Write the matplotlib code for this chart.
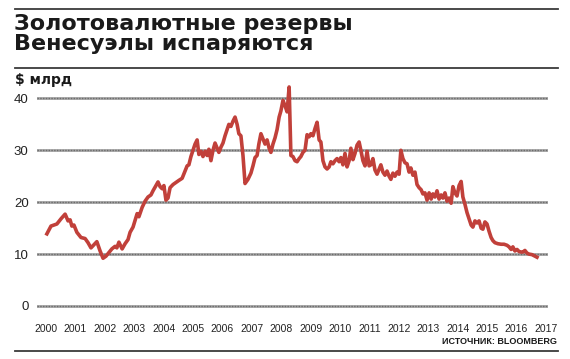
import matplotlib.pyplot as plt
from matplotlib.lines import Line2D

# данные: золотовалютные резервы Венесуэлы, $ млрд
years = [2000.03, 2000.17, 2000.27, 2000.37, 2000.51, 2000.65, 2000.75, 2000.82, 2000.88, 2000.95,
         2001.05, 2001.19, 2001.33, 2001.43, 2001.53, 2001.63, 2001.73, 2001.84, 2001.94, 2002.04,
         2002.14, 2002.24, 2002.35, 2002.41, 2002.48, 2002.59, 2002.69, 2002.79, 2002.86, 2002.96,
         2003.03, 2003.10, 2003.16, 2003.27, 2003.37, 2003.47, 2003.57, 2003.64, 2003.74, 2003.81,
         2003.88, 2003.95, 2004.01, 2004.08, 2004.15, 2004.22, 2004.32, 2004.42, 2004.52, 2004.63,
         2004.73, 2004.80, 2004.86, 2004.93, 2005.00, 2005.07, 2005.14, 2005.20, 2005.27, 2005.34,
         2005.41, 2005.48, 2005.54, 2005.61, 2005.68, 2005.75, 2005.82, 2005.88, 2005.95, 2006.02,
         2006.09, 2006.16, 2006.22, 2006.29, 2006.36, 2006.43, 2006.50, 2006.56, 2006.63, 2006.70,
         2006.77, 2006.87, 2006.97, 2007.04, 2007.11, 2007.18, 2007.24, 2007.31, 2007.38, 2007.45,
         2007.52, 2007.59, 2007.65, 2007.72, 2007.79, 2007.86, 2007.93, 2007.99, 2008.06, 2008.13,
         2008.20, 2008.27, 2008.33, 2008.40, 2008.47, 2008.54, 2008.61, 2008.67, 2008.74, 2008.81,
         2008.88, 2008.95, 2009.01, 2009.08, 2009.15, 2009.22, 2009.29, 2009.35, 2009.42, 2009.49,
         2009.56, 2009.63, 2009.69, 2009.76, 2009.83, 2009.90, 2009.97, 2010.03, 2010.10, 2010.17,
         2010.24, 2010.31, 2010.37, 2010.44, 2010.51, 2010.58, 2010.65, 2010.71, 2010.78, 2010.85,
         2010.92, 2010.99, 2011.05, 2011.12, 2011.19, 2011.26, 2011.33, 2011.39, 2011.46, 2011.53,
         2011.60, 2011.67, 2011.73, 2011.80, 2011.87, 2011.94, 2012.01, 2012.07, 2012.14, 2012.21,
         2012.28, 2012.35, 2012.41, 2012.48, 2012.55, 2012.62, 2012.69, 2012.76, 2012.82, 2012.89,
         2012.96, 2013.03, 2013.10, 2013.16, 2013.23, 2013.30, 2013.37, 2013.44, 2013.50, 2013.57,
         2013.64, 2013.71, 2013.78, 2013.84, 2013.91, 2013.98, 2014.05, 2014.12, 2014.18, 2014.25,
         2014.32, 2014.39, 2014.46, 2014.52, 2014.59, 2014.66, 2014.73, 2014.80, 2014.86, 2014.93,
         2015.00, 2015.07, 2015.14, 2015.20, 2015.27, 2015.37, 2015.48, 2015.58, 2015.68, 2015.75,
         2015.82, 2015.88, 2015.95, 2016.02, 2016.09, 2016.16, 2016.22, 2016.29, 2016.36, 2016.43,
         2016.53, 2016.63, 2016.70]
reserves = [13.9, 15.4, 15.6, 15.8, 16.8, 17.7, 16.4, 16.6, 15.4, 15.6,
            14.2, 13.2, 13.0, 12.2, 11.2, 11.8, 12.4, 10.6, 9.2, 9.6,
            10.3, 11.0, 11.5, 11.2, 12.3, 11.0, 12.0, 12.8, 14.2, 15.2,
            16.5, 17.8, 17.2, 19.0, 20.2, 21.0, 21.4, 22.2, 23.2, 23.9,
            23.0, 22.6, 23.2, 20.4, 20.8, 22.8, 23.4, 23.8, 24.2, 24.6,
            26.0, 27.0, 27.2, 28.8, 30.0, 31.2, 32.0, 29.2, 29.8, 28.8,
            29.8, 29.0, 30.2, 28.0, 30.0, 31.4, 30.4, 29.6, 30.6, 31.4,
            32.8, 34.0, 35.0, 34.6, 35.6, 36.4, 35.0, 33.2, 32.8, 29.0,
            23.6, 24.4, 25.6, 27.0, 28.6, 29.0, 31.2, 33.2, 32.2, 31.2,
            32.0, 30.4, 29.6, 31.2, 32.4, 34.0, 36.4, 37.6, 39.6, 38.6,
            37.4, 42.2, 29.0, 28.8, 28.0, 27.8, 28.4, 28.8, 29.6, 30.0,
            33.0, 32.6, 33.2, 32.8, 34.2, 35.4, 32.0, 31.6, 28.0, 26.8,
            26.4, 26.8, 27.8, 27.4, 28.0, 28.4, 27.8, 28.6, 27.2, 29.4,
            26.8, 28.0, 30.4, 28.2, 29.4, 31.0, 31.6, 30.0, 28.0, 27.0,
            29.8, 27.0, 27.2, 28.4, 26.2, 25.4, 26.4, 27.2, 25.8, 25.2,
            26.0, 25.0, 24.4, 25.6, 25.0, 25.8, 25.4, 30.0, 28.4, 27.6,
            27.4, 25.8, 26.6, 25.2, 25.8, 23.4, 22.8, 22.4, 21.6, 21.8,
            20.4, 21.8, 20.6, 21.6, 21.0, 22.2, 20.6, 21.4, 20.8, 21.8,
            20.2, 20.8, 19.8, 23.0, 21.8, 21.2, 23.2, 24.0, 21.0, 19.6,
            18.0, 16.8, 15.6, 15.2, 16.4, 16.0, 16.4, 15.0, 14.8, 16.2,
            15.8, 14.4, 13.2, 12.6, 12.2, 12.0, 11.9, 11.9, 11.7, 11.4,
            10.9, 11.4, 10.6, 10.9, 10.5, 10.4, 10.4, 10.7, 10.2, 10.0,
            9.9, 9.6, 9.4]

tick_years = list(range(2000, 2018))
y_ticks = [0, 10, 20, 30, 40]

title = "Золотовалютные резервы\nВенесуэлы испаряются"
units = "$ млрд"
source = "ИСТОЧНИК: BLOOMBERG"

narrow = ['Liberation Sans', 'DejaVu Sans']
red = '#c1403a'
dark = '#3a3a3a'

fig = plt.figure(figsize=(5.70, 3.59), dpi=100)
W, H = 570, 359

def fx(px):
    return px / W

def fy(py):
    return 1 - py / H

ax = fig.add_axes([fx(37), fy(310), fx(548) - fx(37), fy(80) - fy(310)])
ax.set_xlim(2000 - 9 / 29.4, 2000 + 502 / 29.4)
ax.set_ylim(-4 / 5.19, 226 / 5.19)

for v in y_ticks:
    ax.axhline(v, color='#a3a3a3', lw=2.0, zorder=1)
    ax.axhline(v, color='#6c6c6c', lw=1.0, ls=(0, (1, 1)), zorder=1)

ax.plot(years, reserves, color=red, lw=2.6, solid_joinstyle='round', zorder=3)

for s in ax.spines.values():
    s.set_visible(False)
ax.set_yticks(y_ticks)
ax.set_yticklabels([str(v) for v in y_ticks], family=narrow, fontsize=9.5, color='#222222')
ax.set_xticks(tick_years)
ax.set_xticklabels([str(y) for y in tick_years], family=narrow, fontsize=7.5, color='#222222')
ax.tick_params(axis='y', length=0, pad=6)
ax.tick_params(axis='x', length=0, pad=10)

# линейки
for py in (9.3, 68.3, 350.7):
    fig.add_artist(Line2D([fx(15), fx(558)], [fy(py), fy(py)], color=dark, lw=1.3))

fig.text(fx(14), fy(14), title, ha='left', va='top', fontsize=16, fontweight='bold',
         color='#1a1a1a', linespacing=1.02, family=['DejaVu Sans'])
fig.text(fx(15), fy(80), units, ha='left', va='center', fontsize=10, fontweight='bold',
         color='#1a1a1a', family=['DejaVu Sans'])
fig.text(fx(557), fy(342), source, ha='right', va='center', fontsize=6.5, fontweight='bold',
         color='#1a1a1a', family=narrow)

fig.savefig('out.png', dpi=100)
